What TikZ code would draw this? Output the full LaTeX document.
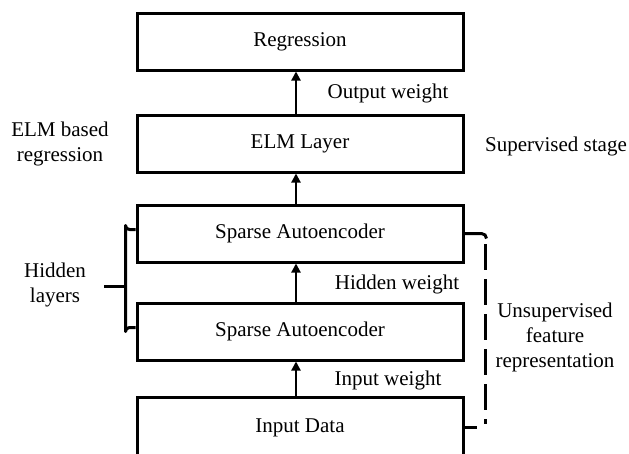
\documentclass[tikz,border=0pt]{standalone}
\usepackage{fontspec}
\setmainfont{Liberation Serif}
\usetikzlibrary{arrows.meta}
\begin{document}
\begin{tikzpicture}[x=1pt,y=-1pt,
  box/.style={draw,line width=3pt,minimum width=326pt,minimum height=57pt,inner sep=0pt,font=\fontsize{21}{25}\selectfont},
  lbl/.style={inner sep=0pt,align=center,font=\fontsize{21}{25}\selectfont},
  arr/.style={line width=2pt,-{Triangle[length=9pt,width=9pt]}},
  brk/.style={line width=3pt}]
\clip (0,0) rectangle (629,453);
\node[box] (reg) at (300,41.5) {Regression};
\node[box] (elm) at (300,143.5) {ELM Layer};
\node[box] (sae1) at (300,233.5) {Sparse Autoencoder};
\node[box] (sae2) at (300,331.5) {Sparse Autoencoder};
\node[box,minimum height=60pt] (inp) at (300,427) {};
\node[lbl] (inptxt) at (300,428) {Input Data};
\draw[arr] ([xshift=-4pt]elm.north) -- ([xshift=-4pt]reg.south);
\draw[arr] ([xshift=-4pt]sae1.north) -- ([xshift=-4pt]elm.south);
\draw[arr] ([xshift=-4pt]sae2.north) -- ([xshift=-4pt]sae1.south);
\draw[arr] ([xshift=-4pt]inp.north) -- ([xshift=-4pt]sae2.south);
% left brace
\coordinate (bt) at ([yshift=4pt]sae1.west);
\coordinate (bb) at ([yshift=4pt]sae2.west);
\coordinate (btip) at (104,286);
\draw[brk,line join=round] (bt) -- ++(-6,0) arc[start angle=90,end angle=180,radius=4] -- ([xshift=-10pt,yshift=-4pt]bb) arc[start angle=180,end angle=270,radius=4] -- (bb);
\draw[brk] (btip) -- (127,286);
% right dashed bracket
\coordinate (rt) at (sae1.east);
\coordinate (rb) at (inp.east);
\draw[brk] (rt) -- ++(17,0) arc[start angle=-90,end angle=0,radius=5];
\draw[brk,dash pattern=on 26pt off 9pt] (485,244) -- (485,424);
\draw[brk] (rb) -- ++(12,0);
% labels
\node[lbl] (t1) at (60,144) {ELM based\\regression};
\node[lbl] (t2) at (556,146) {Supervised stage};
\node[lbl] (t3) at (55,285) {Hidden\\layers};
\node[lbl] (t4) at (555,337) {Unsupervised\\feature\\representation};
\node[lbl] (t5) at (388,93) {Output weight};
\node[lbl] (t6) at (397,284) {Hidden weight};
\node[lbl] (t7) at (388,380) {Input weight};
\end{tikzpicture}
\end{document}
